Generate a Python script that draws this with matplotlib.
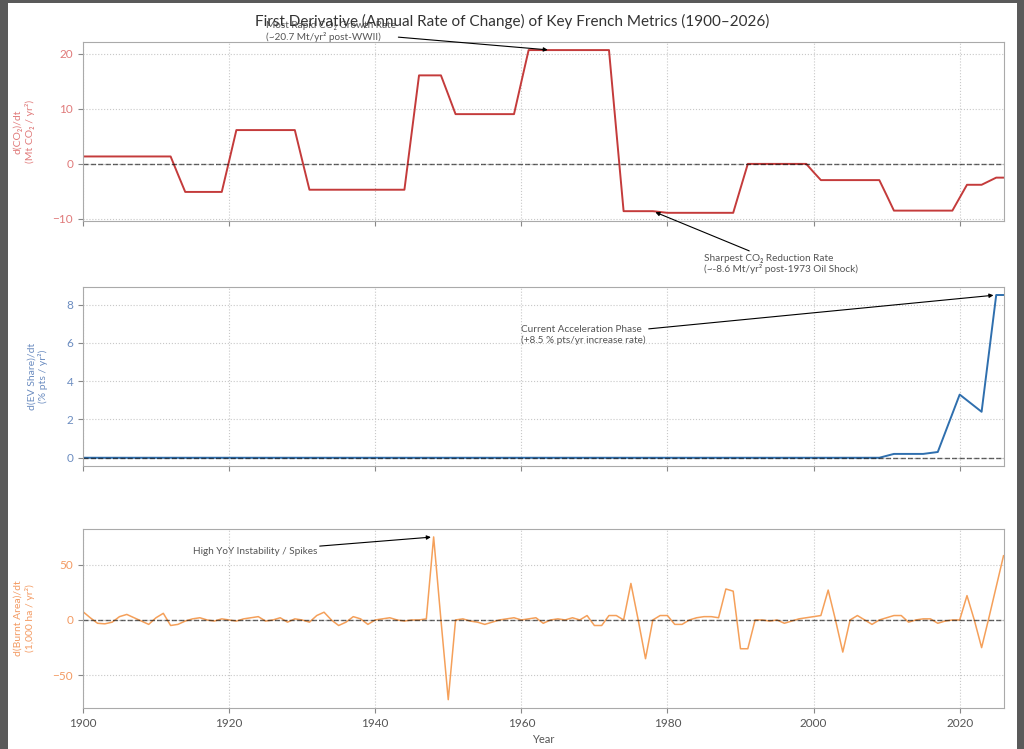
import matplotlib
matplotlib.use('Agg')

import numpy as np
import matplotlib.pyplot as plt
from matplotlib.patches import Rectangle

plt.rcParams['font.family'] = ['Lato', 'DejaVu Sans']

# --- data ---
years = np.arange(1900, 2027)

# d(CO2)/dt, Mt CO2 / yr^2
co2_rate = [
    1.35, 1.35, 1.35, 1.35, 1.35, 1.35, 1.35, 1.35, 1.35, 1.35,      # 1900s
    1.35, 1.35, 1.35, -1.9, -5.1, -5.1, -5.1, -5.1, -5.1, -5.1,      # 1910s
    0.5, 6.15, 6.15, 6.15, 6.15, 6.15, 6.15, 6.15, 6.15, 6.15,       # 1920s
    0.7, -4.7, -4.7, -4.7, -4.7, -4.7, -4.7, -4.7, -4.7, -4.7,       # 1930s
    -4.7, -4.7, -4.7, -4.7, -4.7, 5.7, 16.1, 16.1, 16.1, 16.1,       # 1940s
    12.6, 9.05, 9.05, 9.05, 9.05, 9.05, 9.05, 9.05, 9.05, 9.05,      # 1950s
    14.9, 20.7, 20.7, 20.7, 20.7, 20.7, 20.7, 20.7, 20.7, 20.7,      # 1960s
    20.7, 20.7, 20.7, 6.05, -8.6, -8.6, -8.6, -8.6, -8.6, -8.75,     # 1970s
    -8.9, -8.9, -8.9, -8.9, -8.9, -8.9, -8.9, -8.9, -8.9, -8.9,      # 1980s
    -4.45, 0.0, 0.0, 0.0, 0.0, 0.0, 0.0, 0.0, 0.0, 0.0,              # 1990s
    -1.5, -2.95, -2.95, -2.95, -2.95, -2.95, -2.95, -2.95, -2.95, -2.95,  # 2000s
    -5.7, -8.5, -8.5, -8.5, -8.5, -8.5, -8.5, -8.5, -8.5, -8.5,      # 2010s
    -6.15, -3.8, -3.8, -3.8, -3.15, -2.5, -2.5,                      # 2020s
]

# d(EV share)/dt, % pts / yr
ev_rate = [
    0, 0, 0, 0, 0, 0, 0, 0, 0, 0,
    0, 0, 0, 0, 0, 0, 0, 0, 0, 0,
    0, 0, 0, 0, 0, 0, 0, 0, 0, 0,
    0, 0, 0, 0, 0, 0, 0, 0, 0, 0,
    0, 0, 0, 0, 0, 0, 0, 0, 0, 0,
    0, 0, 0, 0, 0, 0, 0, 0, 0, 0,
    0, 0, 0, 0, 0, 0, 0, 0, 0, 0,
    0, 0, 0, 0, 0, 0, 0, 0, 0, 0,
    0, 0, 0, 0, 0, 0, 0, 0, 0, 0,
    0, 0, 0, 0, 0, 0, 0, 0, 0, 0,
    0, 0, 0, 0, 0, 0, 0, 0, 0, 0,
    0.1, 0.2, 0.2, 0.2, 0.2, 0.2, 0.25, 0.3, 1.3, 2.3,
    3.3, 3.0, 2.7, 2.4, 5.45, 8.5, 8.5,
]

# d(Burnt area)/dt, 1,000 ha / yr^2
burn_rate = [
    7.5, 2, -3, -3.5, -2, 3, 5, 2, -1, -4,          # 1900s
    2, 6, -5, -4, -1, 1, 2, 0, -1, 1,               # 1910s
    0, -1, 1, 2, 3, -1, 0, 2, -2, 1,                # 1920s
    0, -2, 4, 7, 0, -5, -2, 3, 1, -4,               # 1930s
    0, 1, 2, 0, -1, 0, 0, 1, 75, 0,                 # 1940s
    -72, 0, 1, -1, -2, -4, -2, 0, 1, 2,             # 1950s
    0, 1, 2, -3, 0, 1, 0, 2, 0, 4,                  # 1960s
    -5, -5, 4, 4, 0, 33, 0, -35, 0, 4,              # 1970s
    4, -4, -4, 0, 2, 3, 3, 2, 28, 26,               # 1980s
    -26, -26, 0, 0, -1, 0, -3, -1, 1, 2,            # 1990s
    3, 4, 27, 0, -29, 0, 4, 0, -4, 0,               # 2000s
    2, 4, 4, -2, 0, 1, 1, -3, -1, 0,                # 2010s
    0, 22, 0, -25, 2, 30, 58,                       # 2020s
]

# --- figure: white sheet on a dark grey border ---
fig = plt.figure(figsize=(10.24, 7.49), dpi=100)
fig.patch.set_facecolor('#5a5a5a')
fig.add_artist(Rectangle((8 / 1024, 0), 1009 / 1024, 1 - 3 / 749,
                         transform=fig.transFigure, facecolor='white',
                         edgecolor='none', zorder=-10))

left, width, height = 0.081, 0.899, 0.239
ax1 = fig.add_axes([left, 0.705, width, height])
ax2 = fig.add_axes([left, 0.378, width, height], sharex=ax1)
ax3 = fig.add_axes([left, 0.055, width, height], sharex=ax1)

panels = [
    (ax1, co2_rate, '#c43b3b', '#e07a7a', 'd(CO\u2082)/dt\n(Mt CO\u2082 / yr\u00b2)', [-10, 0, 10, 20]),
    (ax2, ev_rate, '#2f6fae', '#6b8cc0', 'd(EV Share)/dt\n(% pts / yr\u00b2)', [0, 2, 4, 6, 8]),
    (ax3, burn_rate, '#f5a05a', '#f39a62', 'd(Burnt Area)/dt\n(1,000 ha / yr\u00b2)', [-50, 0, 50]),
]

for ax, values, color, label_color, label, yticks in panels:
    ax.plot(years, values, color=color, linewidth=1.4 if ax is not ax3 else 1.1)
    ax.axhline(0, color='black', linestyle='--', linewidth=1, alpha=0.6)
    ax.set_ylabel(label, color=label_color, fontsize=7.5, labelpad=13)
    ax.set_yticks(yticks)
    ax.tick_params(axis='y', labelcolor=label_color, labelsize=8.5, color='#888888')
    ax.tick_params(axis='x', labelsize=8.5, color='#888888', labelcolor='#555555')
    ax.grid(True, linestyle=':', color='#c8c8c8', linewidth=0.8)
    for sp in ax.spines.values():
        sp.set_color('#aaaaaa')

ax1.set_xlim(1900, 2026)
ax1.set_xticks(np.arange(1900, 2021, 20))
ax1.tick_params(axis='x', labelbottom=False)
ax2.tick_params(axis='x', labelbottom=False)
ax3.set_xlabel('Year', fontsize=8, color='#555555', labelpad=4)

# --- annotations ---
arrow = dict(arrowstyle='-|>', color='black', lw=0.8, mutation_scale=6,
             shrinkA=0, shrinkB=2)
note = dict(fontsize=7.2, color='#555555', ha='left', va='center', annotation_clip=False)

ax1.annotate('Most Rapid CO\u2082 Growth Rate\n(~20.7 Mt/yr\u00b2 post-WWII)',
             xy=(1964, 20.7), xytext=(1925, 24.1), arrowprops=arrow, **note)
ax1.annotate('Sharpest CO\u2082 Reduction Rate\n(~-8.6 Mt/yr\u00b2 post-1973 Oil Shock)',
             xy=(1978, -8.6), xytext=(1985, -18.2), arrowprops=arrow, **note)
ax2.annotate('Current Acceleration Phase\n(+8.5 % pts/yr increase rate)',
             xy=(2025, 8.5), xytext=(1960, 6.4), arrowprops=arrow, **note)
ax3.annotate('High YoY Instability / Spikes',
             xy=(1948, 75), xytext=(1915, 62), arrowprops=arrow, **note)

fig.suptitle('First Derivative (Annual Rate of Change) of Key French Metrics (1900\u20132026)',
             y=0.971, va='center', fontsize=11, color='#333333')

plt.savefig('out.png', dpi=100, facecolor=fig.get_facecolor())
print('saved out.png')
